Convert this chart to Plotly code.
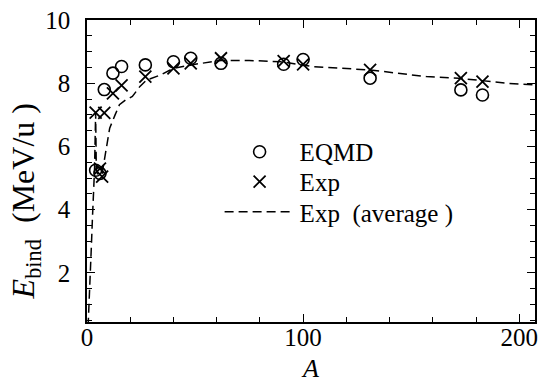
import plotly.graph_objects as go

# EQMD (open circles)
eqmd_A = [4, 6, 8, 12, 16, 27, 40, 48, 62, 91, 100, 131, 173, 183]
eqmd_E = [5.25, 5.15, 7.8, 8.32, 8.53, 8.58, 8.68, 8.79, 8.63, 8.6, 8.75, 8.16, 7.79, 7.63]

# Experiment (crosses)
exp_A = [4, 6, 7, 8, 12, 16, 27, 40, 48, 62, 91, 100, 131, 173, 183]
exp_E = [7.07, 5.3, 5.05, 7.06, 7.68, 7.93, 8.21, 8.47, 8.63, 8.79, 8.7, 8.6, 8.42, 8.16, 8.05]

# Experimental average (dashed curve)
avg_A = [0.5, 1.0, 1.5, 2.0, 2.5, 3.0, 3.5, 4.0, 4.3, 5.0, 6.0, 7.0, 8.0, 9.0, 10.5, 13, 15, 18,
         21, 24.5, 27.5, 34, 40, 50, 62, 75, 90, 104, 131, 157, 172, 194, 207]
avg_E = [0.3, 1.0, 2.0, 2.8, 3.7, 4.5, 5.3, 7.05, 5.3, 5.1, 5.1, 5.15, 5.6, 6.05, 6.58, 7.0, 7.32, 7.48,
         7.58, 7.9, 8.1, 8.26, 8.47, 8.6, 8.72, 8.72, 8.68, 8.53, 8.42, 8.21, 8.16, 8.0, 7.95]

FONT = "Liberation Serif, Times New Roman, Times, serif"

fig = go.Figure()
fig.add_trace(go.Scatter(
    x=eqmd_A, y=eqmd_E, mode="markers", name="EQMD", legend="legend",
    marker=dict(symbol="circle-open", size=12, color="black", line=dict(width=1.6)),
))
fig.add_trace(go.Scatter(
    x=exp_A, y=exp_E, mode="markers", name="Exp", legend="legend2",
    marker=dict(symbol="x-thin-open", size=12, color="black", line=dict(width=1.8)),
))
fig.add_trace(go.Scatter(
    x=avg_A, y=avg_E, mode="lines", name="Exp  (average )", legend="legend3",
    line=dict(color="black", width=1.5, dash="9px,5px"),
))

axis_common = dict(
    showline=True, linecolor="black", linewidth=1.5, mirror="ticks",
    ticks="inside", tickcolor="black", tickwidth=1.3, ticklen=8,
    showgrid=False, zeroline=False, automargin=False,
    tickfont=dict(family=FONT, size=25, color="black"),
)

fig.update_xaxes(
    range=[0, 207.3], tickvals=[0, 100, 200], ticklabelstandoff=-8,
    minor=dict(ticks="inside", dtick=20, tick0=0, ticklen=5, tickcolor="black", tickwidth=1.2),
    title=dict(text="<i>A</i>", font=dict(family=FONT, size=26, color="black"), standoff=9),
    **axis_common,
)
fig.update_yaxes(
    range=[0.45, 10], tickvals=[2, 4, 6, 8, 10], ticklabelstandoff=10,
    minor=dict(ticks="inside", dtick=0.5, tick0=0, ticklen=5, tickcolor="black", tickwidth=1.2),
    **axis_common,
)

fig.add_annotation(
    text="<i>E</i><sub>bind</sub>  (MeV/u )", textangle=-90,
    xref="paper", yref="paper", x=-0.138, y=0.40, xanchor="center", yanchor="middle",
    showarrow=False, font=dict(family=FONT, size=32, color="black"),
)

leg = dict(
    x=0.296, xanchor="left", yanchor="middle",
    bgcolor="rgba(0,0,0,0)", borderwidth=0,
    font=dict(family=FONT, size=25, color="black"),
    itemwidth=70,
)

fig.update_layout(
    width=541, height=386,
    margin=dict(l=87, r=6, t=20, b=64),
    paper_bgcolor="white", plot_bgcolor="white",
    showlegend=True,
    legend=dict(y=0.563, **leg),
    legend2=dict(y=0.464, **leg),
    legend3=dict(y=0.364, **leg),
)

fig.write_html(
    "out.html",
    config={"displayModeBar": False},
    post_script="document.body.style.margin='0';document.body.style.overflow='hidden';",
)
